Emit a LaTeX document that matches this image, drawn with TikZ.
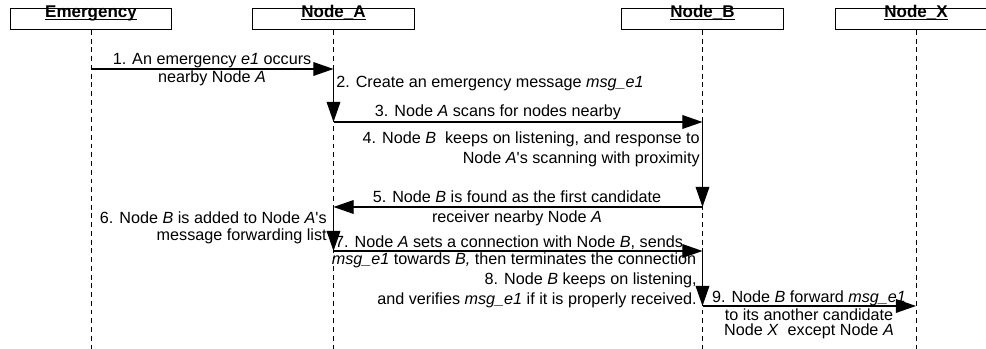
\documentclass[tikz,border=0pt]{standalone}
\usepackage{fontspec}
\setmainfont{Liberation Sans}
\usetikzlibrary{arrows.meta,positioning}
\newcommand{\ulhead}[1]{\underline{\smash{#1}}}
\tikzset{
  head/.style={
    draw=black,
    line width=0.6pt,
    minimum width=100pt,
    minimum height=13pt,
    inner sep=0pt,
    font=\fontsize{10.5}{12}\selectfont\bfseries
  },
  lifeline/.style={line width=0.6pt, dash pattern=on 3pt off 2.4pt},
  msg/.style={-{Triangle[length=12.5pt,width=8.5pt]}, line width=0.8pt},
  lbl/.style={inner sep=0pt, align=center, font=\fontsize{10}{12.4}\selectfont},
  rlbl/.style={lbl, align=right}
}

\begin{document}
\begin{tikzpicture}[x=0.618pt, y=-0.618pt]
  \useasboundingbox (0,0) rectangle (986,349);
  \coordinate (bottom) at (0,349);
  % heads and lifelines
  \node[head] (emg) at (91,19) {\ulhead{Emergency}};
  \node[head] (nodeA) at (333.5,19) {\ulhead{Node\_A}};
  \node[head] (nodeB) at (702.5,19) {\ulhead{Node\_B}};
  \node[head] (nodeX) at (916,19) {\ulhead{Node\_X}};
  \foreach \n in {emg,nodeA,nodeB,nodeX}
    \draw[lifeline] (\n.south) -- (\n.south |- bottom);

  % message points
  \coordinate (emg1) at (emg.south |- 0,69);
  \coordinate (A1) at (nodeA.south |- 0,69);
  \coordinate (A2) at (nodeA.south |- 0,122);
  \coordinate (B2) at (nodeB.south |- 0,122);
  \coordinate (B3) at (nodeB.south |- 0,207);
  \coordinate (A3) at (nodeA.south |- 0,207);
  \coordinate (A4) at (nodeA.south |- 0,251);
  \coordinate (B4) at (nodeB.south |- 0,251);
  \coordinate (B5) at (nodeB.south |- 0,306);
  \coordinate (X5) at (nodeX.south |- 0,306);

  \draw[msg] (emg1) -- (A1);
  \draw[msg] (A1) -- (A2);
  \draw[msg] (A2) -- (B2);
  \draw[msg] (B2) -- (B3);
  \draw[msg] (B3) -- (A3);
  \draw[msg] (A3) -- (A4);
  \draw[msg] (A4) -- (B4);
  \draw[msg] (B4) -- (B5);
  \draw[msg] (B5) -- (X5);

  % labels
  \node[lbl, anchor=base] (l1a) at (212,65) {1. An emergency \textit{e1} occurs};
  \node[lbl, anchor=base] (l1b) at (212,83) {nearby Node \textit{A}};
  \node[lbl, anchor=base west] (l2) at (336,88) {2. Create an emergency message \textit{msg\_e1}};
  \node[lbl, anchor=base] (l3) at (498,117) {3. Node \textit{A} scans for nodes nearby};
  \node[rlbl, anchor=north east] (l4) at (700,131.5)
    {4. Node \textit{B}\ \ keeps on listening, and response to\\Node \textit{A}\textquotesingle s scanning with proximity};
  \node[lbl, anchor=base] (l5a) at (517,203) {5. Node \textit{B} is found as the first candidate};
  \node[lbl, anchor=base] (l5b) at (517,223) {receiver nearby Node \textit{A}};
  \node[rlbl, anchor=north east] (l6) at (327,211.4)
    {6. Node \textit{B} is added to Node \textit{A}\textquotesingle s\\[-1.9pt]message forwarding list};
  \node[lbl, anchor=base] (l7a) at (509,248) {7. Node \textit{A} sets a connection with Node \textit{B}, sends};
  \node[lbl, anchor=base] (l7b) at (514,265) {\textit{msg\_e1} towards \textit{B,} then terminates the connection};
  \node[rlbl, anchor=north east] (l8) at (697,272.4)
    {8. Node \textit{B} keeps on listening,\\and verifies \textit{msg\_e1} if it is properly received.};
  \node[lbl, anchor=base] (l9a) at (809,303) {9. Node \textit{B} forward \textit{msg\_e1}};
  \node[lbl, anchor=north] (l9b) at (809,308.4)
    {to its another candidate\\[-3.1pt]Node \textit{X}\ \ except Node \textit{A}};
\end{tikzpicture}
\end{document}
